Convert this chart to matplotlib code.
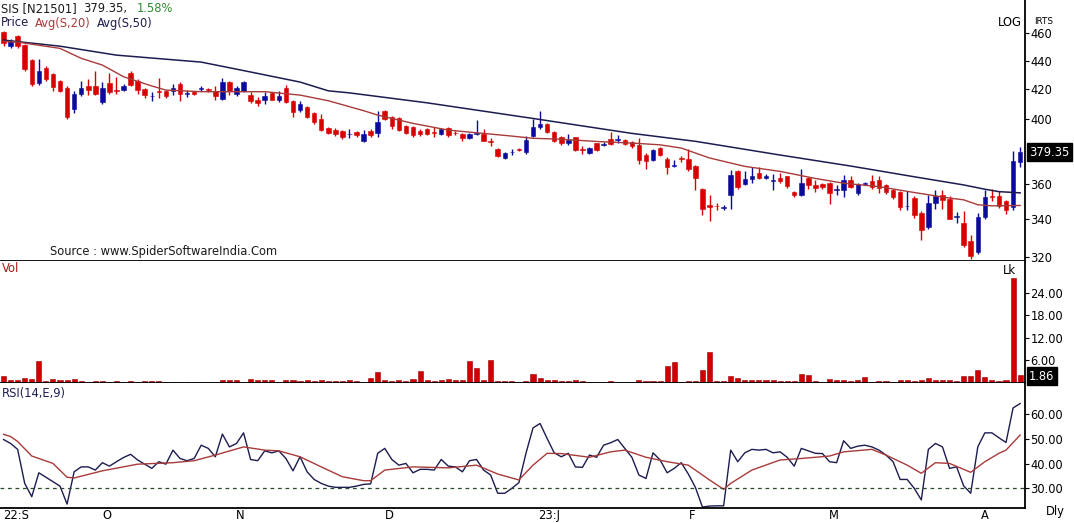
import matplotlib
matplotlib.use("Agg")
import matplotlib.pyplot as plt
from matplotlib.ticker import FixedLocator, FixedFormatter, NullLocator
import numpy as np

# ---- daily OHLC ----
opens = [461, 450.6, 458, 451.3, 440.5, 424.5, 434.8, 430.6, 425.6, 421,
         406.6, 416.7, 422.3, 422.3, 411.3, 424.5, 419.8, 419.8, 431.5, 425.9,
         420.3, 415.3, 419, 418.6, 418.8, 423.9, 416.8, 418.4, 420.4, 419.8,
         418.6, 413.2, 425, 416.5, 419.2, 416.3, 412.5, 412.5, 417.3, 413.1,
         420.7, 412.3, 406.1, 408, 404.3, 400, 394.2, 393.4, 392.3, 390.3,
         391.8, 386.2, 392.4, 391.1, 405.8, 401.4, 400.8, 395.5, 394.8, 392.8,
         393.5, 391.4, 390.8, 394.6, 391.4, 390.4, 388.3, 390.9, 390.9, 385.9,
         381.2, 375.8, 379.1, 381, 379.5, 389.2, 395.3, 396.7, 391.6, 388.9,
         384.9, 388.4, 381.2, 378.8, 384.7, 383.8, 387.2, 386.7, 386.9, 385.7,
         383.8, 377.6, 374.7, 381.9, 375, 371, 375.3, 375, 370.8, 357.4,
         347.8, 347.5, 346.5, 353.6, 367.6, 360.1, 362.8, 366.8, 363.6, 362,
         363.8, 364.6, 355.3, 354, 363.8, 359.5, 360.1, 360.5, 356.9, 356.9,
         362.3, 355.1, 360.4, 361.8, 362.7, 359.3, 356.4, 355.5, 347.3, 351.8,
         343.4, 336.1, 349.3, 353.5, 351.2, 341.4, 338.2, 328.4, 322.6, 341.1,
         353.3, 353, 350.2, 347.1, 373.1]
highs = [462, 455.5, 459, 452, 441, 441.5, 436, 431.5, 426.5, 422,
         419, 426, 427, 433, 425, 431, 428.5, 424, 433, 427,
         421, 418, 428, 419.5, 423.5, 425, 419.5, 419, 422, 421,
         422.5, 427.5, 426, 422, 426, 418, 414.5, 418.5, 418, 419,
         423, 413, 411.8, 409, 405, 403.5, 395, 394.2, 393.2, 393.5,
         392.5, 393.2, 393.5, 405.8, 406.3, 402, 401.8, 396.3, 395.5, 393.5,
         394.2, 394.8, 394.2, 395.2, 392.5, 391.4, 391.5, 399.3, 394, 388,
         382, 379.5, 381.5, 382, 389.3, 400.5, 405.5, 397.5, 392.3, 389.5,
         390.5, 389, 383, 382.6, 385.2, 385.5, 391.9, 390, 387.5, 386.3,
         388, 378.5, 381.5, 382.5, 376.5, 374.5, 377, 381.2, 371.5, 358,
         353.7, 349, 348, 368.5, 368.5, 368, 370.2, 370.5, 366, 366.3,
         366.9, 365, 356, 369.2, 364.5, 362.2, 360.5, 361.5, 359.5, 365.6,
         365, 361, 361.5, 365.5, 365, 360, 357, 356, 355.9, 353.3,
         344.5, 353.9, 356.4, 356.5, 353.1, 344, 344.8, 331.7, 343.8, 356.7,
         357.4, 356, 351, 380.1, 382.5]
lows = [451, 449, 449.5, 432.5, 422, 423, 426, 419, 418, 400,
        404, 415.5, 416, 416, 410, 417, 416.5, 419, 422.5, 417,
        414, 412, 414, 414, 416, 412, 415, 416, 419, 418,
        412.7, 412.5, 416, 415.5, 418.5, 411, 409, 410, 412.5, 411.5,
        411, 401.8, 405, 400.7, 397, 392.5, 390.3, 389.4, 387.6, 388,
        389, 385.8, 389, 389, 399.5, 393.8, 392.5, 390.5, 389, 389.5,
        390, 388.6, 390, 388.5, 390, 386.5, 387.5, 390, 386, 383,
        376, 375, 377.4, 380, 378, 388.5, 394, 391, 385.5, 384,
        384, 380, 378.4, 378, 380, 383, 384, 385, 383.8, 382,
        371.8, 369, 374, 377, 366, 370, 373.5, 368, 356.7, 342.7,
        338.9, 345.5, 345.5, 346, 357.5, 359.5, 361, 363, 363, 356.4,
        361, 358, 352.8, 353, 357.5, 355.3, 357, 348.8, 353.9, 352.8,
        357.8, 354, 359.5, 357.5, 354.7, 354.5, 351.5, 345.5, 345, 341,
        328.7, 335, 345.9, 345.7, 340, 337.8, 325, 318.7, 321.5, 340.5,
        350.2, 346.5, 343, 345.5, 370]
closes = [453, 454.3, 450.6, 434.4, 423.5, 432.9, 427, 421.6, 419.2, 401.7,
          416.6, 420.6, 419.5, 416.8, 421.1, 418.3, 418.7, 422.3, 423.2, 419.8,
          416.1, 415.8, 418, 415.2, 421.1, 416.6, 417.4, 416.8, 421, 419.5,
          415.8, 425, 418.6, 420.7, 425, 411.8, 410.9, 415.3, 413.1, 415.3,
          411.6, 404.5, 409.9, 401.4, 398, 393.2, 391.1, 390.3, 388.6, 390.6,
          389.9, 390.8, 389.7, 398.4, 400.4, 395.5, 393, 391.3, 389.7, 390.3,
          390.9, 391.2, 393.5, 389.7, 391, 387.8, 390.8, 391.5, 386.4, 385.6,
          376.7, 378.8, 379.4, 380.4, 386.8, 394.9, 396.9, 391.6, 386.5, 384.8,
          386.7, 380.8, 380.6, 381.9, 380.5, 384.3, 384.6, 387.1, 384.4, 383.1,
          374.7, 374.1, 380.9, 377.6, 370.5, 371.5, 375.1, 368.8, 363.4, 345.6,
          347.2, 347.3, 346.6, 365.5, 358.3, 363, 364.8, 363.6, 364.8, 362,
          361.9, 358.8, 354, 360.8, 359.8, 357.8, 358.2, 354.7, 356.9, 362.3,
          358.4, 360.1, 360.6, 358.4, 357.6, 355.5, 352.7, 347.1, 347.7, 342.4,
          334.4, 349.3, 353.1, 350.8, 340.5, 341.8, 326.2, 320.4, 341.1, 352.5,
          352.9, 347.6, 345.2, 373.9, 379.35]

# volume (lakhs)
volume = [1.8, 0.5, 0.5, 1.2, 0.9, 5.6, 0.3, 0.9, 0.5, 0.7,
          0.9, 0.4, 0, 0.4, 0.4, 0, 0.3, 0, 0.3, 0,
          0.4, 0.4, 0.4, 0, 0, 0, 0, 0, 0, 0,
          0, 0.5, 0.5, 0.5, 0, 0.9, 0.6, 0.5, 0.5, 0,
          0.5, 0.5, 0.4, 0.6, 0.4, 0.6, 0.4, 0.4, 0.4, 0.5,
          0.4, 0, 1.0, 2.8, 0.5, 0.4, 0.5, 0.4, 0.9, 2.9,
          0.5, 0.4, 0.5, 0.9, 0.5, 0.5, 5.6, 3.7, 0.7, 6.0,
          0.4, 0.3, 0.3, 0, 0.4, 2.2, 1.0, 0.5, 0.5, 0.4,
          0.4, 0.7, 0.4, 0, 0, 0, 0.3, 0, 0, 0,
          0.5, 0.4, 0.4, 0.4, 4.3, 5.4, 0, 0.4, 0.4, 3.2,
          8.1, 0.4, 0.4, 1.6, 1.0, 0.6, 0.6, 0.5, 0.5, 0.7,
          0.4, 0.4, 0.4, 2.2, 1.9, 0.3, 0, 0.9, 0.5, 0.5,
          0.3, 0.6, 1.3, 0, 0.3, 0.3, 0, 0.5, 0.5, 0.3,
          0.6, 1.0, 0.5, 0.5, 0.6, 0.3, 1.7, 1.7, 3.3, 1.5,
          0.5, 0.3, 0.7, 28.0, 1.86]

# RSI(14) per bar
rsi = [49.8, 48.2, 45.8, 32, 26.6, 36.3, 34.5, 32.7, 30.9, 23.6,
       36.7, 38.7, 38.7, 37.4, 40.4, 39, 40.8, 42.5, 43.8, 41.5,
       39.8, 38.1, 40.8, 39.8, 45.5, 42.1, 41.2, 42.1, 47.5, 46.2,
       42.8, 52, 46.8, 48.2, 52.5, 41.7, 41.2, 45.2, 44.4, 45.2,
       42.1, 37.1, 42.8, 36.7, 33.6, 32, 30.9, 30.4, 30.4, 30.4,
       30.9, 31.6, 31.8, 44.2, 46.2, 41.7, 39.4, 40.1, 36.3, 37.7,
       37.7, 37.4, 41.7, 39, 38.7, 36.7, 41.2, 41.7, 37.4, 35.4,
       28, 28, 30, 32.3, 44.2, 54.5, 56.3, 50.2, 44.4, 42.8,
       44.2, 38.7, 38.5, 43.5, 42.6, 47.5, 48.5, 49.8, 46.2, 42.6,
       35.4, 34, 44.4, 41.5, 36.3, 38.1, 40.4, 35.8, 30.4, 22.4,
       22.8, 22.9, 22.9, 45.5, 40.8, 44.4, 45.8, 45.5, 45.8, 44.4,
       44.8, 42.6, 39, 46.2, 45.2, 44.2, 44.1, 40.8, 40.4, 49.3,
       46.2, 47.1, 47.5, 46.8, 45.5, 43.5, 40.8, 33.6, 33.6, 30,
       25.3, 45.8, 48.2, 46.8, 38.1, 38.7, 31, 28, 46.8, 52.5,
       52.5, 50.5, 48.6, 62.6, 64.4]

# moving averages / signal line, read at sample bars
ma20_bar = [0, 2, 8, 11, 14, 17, 21, 23, 28, 32, 37, 42, 46, 51, 53, 58, 63, 67,
            72, 75, 79, 84, 89, 93, 96, 100, 105, 110, 115, 119, 124, 129, 134,
            136, 138, 140, 144]
ma20_val = [454, 453.5, 448.9, 441.7, 436.9, 428.7, 422.3, 419.5, 418.4, 418.4,
            418.4, 416.1, 412.3, 405.7, 402.8, 397.4, 393.1, 391.4, 389.3, 387.9,
            387.3, 385.9, 384.9, 383.8, 381.8, 375.7, 370.6, 367.6, 363.4, 360.6,
            358.6, 355.2, 352, 351, 348.2, 347.6, 347.8]
ma50_bar = [0, 8, 16, 28, 35, 42, 46, 49, 60, 75, 89, 98, 110, 120, 129, 136, 139, 141, 144]
ma50_val = [455, 450.5, 444, 439, 432, 425, 419, 417.6, 410.9, 400.6, 391, 386,
            377.5, 370.8, 364.4, 359.6, 357.1, 355.7, 355]
sig_bar = [0, 1, 2, 4, 7, 9, 10, 14, 19, 24, 27, 30, 34, 37, 39, 42, 45, 48, 51,
           52, 54, 58, 63, 67, 70, 73, 75, 77, 79, 83, 86, 88, 91, 94, 97, 100,
           102, 103, 106, 110, 113, 117, 119, 123, 125, 128, 130, 132, 134, 137,
           139, 141, 142, 144]
sig_val = [51.9, 51, 49, 43.1, 40.1, 34.5, 34.2, 37.1, 39.8, 40.4, 41.2, 43.5,
           46.8, 45.5, 45.2, 42.8, 38.7, 34.7, 33.1, 33.1, 37.4, 38.7, 38.3, 39.4,
           35.8, 33.4, 39.4, 44.2, 44.1, 42.6, 44.8, 45.5, 42.6, 40.8, 39.4, 33.4,
           29.6, 32, 37.4, 41.5, 42.1, 43.1, 44.8, 45.8, 43.5, 39.4, 36.1, 40.4,
           40.1, 36.5, 40.8, 44.2, 45.5, 51.6]

month_pos = [-0.1, 14.7, 33.5, 54.6, 77.3, 97.5, 117.6, 139.0]
month_labels = ["22:S", "O", "N", "D", "23:J", "F", "M", "A"]

price_ticks = [320, 340, 360, 400, 420, 440, 460]
vol_ticks = [6, 12, 18, 24]
rsi_ticks = [30, 40, 50, 60]

RED = "#d90000"
BLUE = "#0a0a9c"
NAVY = "#1c1c50"
MARed = "#a83a3a"

W, H = 1074, 523
RIGHT = 1025.0


def box(top, bottom):
    return [0, 1 - bottom / H, RIGHT / W, (bottom - top) / H]


plt.rcParams["font.family"] = "DejaVu Sans"
fig = plt.figure(figsize=(W / 100, H / 100), dpi=100)
ax_p = fig.add_axes(box(0, 261))
ax_v = fig.add_axes(box(261, 383.3))
ax_r = fig.add_axes(box(383.3, 508.3))

x = np.arange(len(closes))
o = np.array(opens)
c = np.array(closes)
hi = np.array(highs)
lo = np.array(lows)
cols = np.where(c >= o, BLUE, RED)

# price panel
ax_p.set_yscale("log")
ax_p.vlines(x, lo, hi, colors=cols, lw=1)
body_bot = np.minimum(o, c)
body_h = np.maximum(np.abs(c - o), 0.45)
ax_p.bar(x, body_h, bottom=body_bot, width=0.64, color=cols, edgecolor=cols, linewidth=0.4)
ax_p.plot(ma50_bar, ma50_val, color=NAVY, lw=1.1)
ax_p.plot(ma20_bar, ma20_val, color=MARed, lw=1.0)
ax_p.set_ylim(317.8, 485.6)

# volume panel
ax_v.bar(x, volume, width=0.72, color="#d00000", edgecolor="#9a0000", linewidth=0.4)
ax_v.set_ylim(-0.3, 32.7)

# rsi panel
ax_r.plot(x, rsi, color=NAVY, lw=1.0)
ax_r.plot(sig_bar, sig_val, color=MARed, lw=1.0)
ax_r.axhline(30, color="#2d4a2d", lw=0.9, ls=(0, (3, 3)))
ax_r.set_ylim(21.9, 72.6)

for ax, ticks, fmt in [(ax_p, price_ticks, "{:d}"), (ax_v, vol_ticks, "{:.2f}"), (ax_r, rsi_ticks, "{:.2f}")]:
    ax.set_xlim(-0.5, (RIGHT - 3.5) / 7.06)
    ax.set_facecolor("white")
    for s in ["left", "top"]:
        ax.spines[s].set_visible(False)
    for s in ["right", "bottom"]:
        ax.spines[s].set_linewidth(1.3)
        ax.spines[s].set_color("black")
    ax.set_xticks([])
    ax.yaxis.tick_right()
    ax.yaxis.set_major_locator(FixedLocator(ticks))
    ax.yaxis.set_major_formatter(FixedFormatter([fmt.format(t) for t in ticks]))
    ax.yaxis.set_minor_locator(NullLocator())
    ax.tick_params(axis="y", direction="out", length=3, width=0.8, pad=1, labelsize=8.3, colors="black")

# last value boxes
ax_p.text(1.004, closes[-1], "379.35", transform=ax_p.get_yaxis_transform(), ha="left", va="center",
          fontsize=8.3, color="white", bbox=dict(boxstyle="square,pad=0.18", fc="black", ec="black"))
ax_v.text(1.004, 1.6, "1.86", transform=ax_v.get_yaxis_transform(), ha="left", va="center",
          fontsize=8.3, color="white", bbox=dict(boxstyle="square,pad=0.2", fc="black", ec="black"))
ax_v.text(0.985, 0.925, "Lk", transform=ax_v.transAxes, ha="center", va="center", fontsize=8.3)
ax_v.text(0.002, 0.94, "Vol", transform=ax_v.transAxes, ha="left", va="center", fontsize=8.3, color="#b01818")
ax_r.text(0.002, 0.92, "RSI(14,E,9)", transform=ax_r.transAxes, ha="left", va="center", fontsize=8.3, color=NAVY)
ax_p.text(0.9856, 0.912, "LOG", transform=ax_p.transAxes, ha="center", va="center", fontsize=8.3)
fig.text(1044 / W, 1 - 21 / H, "IRTS", ha="center", va="center", fontsize=6.3)
fig.text(1055 / W, 1 - 512 / H, "Dly", ha="center", va="center", fontsize=8.3)

# month labels
for pos, lab in zip(month_pos, month_labels):
    ax_r.text(pos, -0.055, lab, transform=ax_r.get_xaxis_transform(), ha="left" if lab == "22:S" else "center",
              va="center", fontsize=8.3)

# header
fig.text(1 / W, 1 - 8.5 / H, "SIS [N21501]", ha="left", va="center", fontsize=8.3, color="#1a1a1a")
fig.text(83 / W, 1 - 8.5 / H, "379.35,", ha="left", va="center", fontsize=8.3, color="#1a1a1a")
fig.text(137 / W, 1 - 8.5 / H, "1.58%", ha="left", va="center", fontsize=8.3, color="#2e8b2e")
fig.text(1 / W, 1 - 23 / H, "Price", ha="left", va="center", fontsize=8.3, color=NAVY)
fig.text(35 / W, 1 - 23 / H, "Avg(S,20)", ha="left", va="center", fontsize=8.3, color=MARed)
fig.text(97 / W, 1 - 23 / H, "Avg(S,50)", ha="left", va="center", fontsize=8.3, color=NAVY)
fig.text(50 / W, 1 - 252 / H, "Source : www.SpiderSoftwareIndia.Com", ha="left", va="center", fontsize=8.3,
         color="#1a1a1a")

fig.savefig("out.png", dpi=100)
